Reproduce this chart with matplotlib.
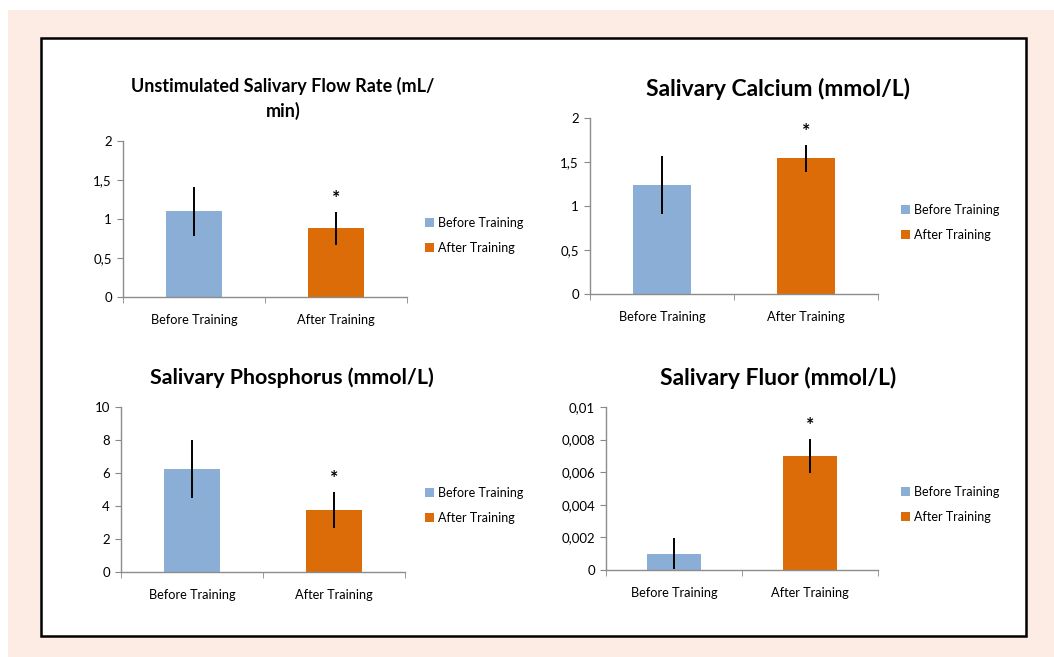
import matplotlib
matplotlib.use("Agg")
import matplotlib.pyplot as plt
from matplotlib.patches import Rectangle

plt.rcParams['font.family'] = ['Lato', 'DejaVu Sans']

# Data
categories = ["Before Training", "After Training"]
titles = ["Unstimulated Salivary Flow Rate (mL/\nmin)",
          "Salivary Calcium (mmol/L)",
          "Salivary Phosphorus (mmol/L)",
          "Salivary Fluor (mmol/L)"]
flow_vals = [1.1, 0.88]
flow_err = [0.3, 0.2]
calcium_vals = [1.24, 1.54]
calcium_err = [0.32, 0.14]
phos_vals = [6.25, 3.75]
phos_err = [1.7, 1.03]
fluor_vals = [0.001, 0.007]
fluor_err = [0.0009, 0.001]
yticks_flow = [0, 0.5, 1, 1.5, 2]
yticks_calcium = [0, 0.5, 1, 1.5, 2]
yticks_phos = [0, 2, 4, 6, 8, 10]
yticks_fluor = [0, 0.002, 0.004, 0.006, 0.008, 0.01]
ytick_labels_flow = ["0", "0,5", "1", "1,5", "2"]
ytick_labels_calcium = ["0", "0,5", "1", "1,5", "2"]
ytick_labels_phos = ["0", "2", "4", "6", "8", "10"]
ytick_labels_fluor = ["0", "0,002", "0,004", "0,006", "0,008", "0,01"]

colors = ['#8aaed6', '#dc6c08']
W, H = 1054, 657

fig = plt.figure(figsize=(W / 100, H / 100), dpi=100)
fig.patch.set_facecolor('white')

# peach background and black frame
fig.patches.append(Rectangle((8 / W, 0), 1, 1 - 10 / H, transform=fig.transFigure,
                             facecolor='#fdece3', edgecolor='none', zorder=-3))
fig.patches.append(Rectangle((41 / W, 1 - 636 / H), (1026 - 41) / W, (636 - 38) / H,
                             transform=fig.transFigure, facecolor='white',
                             edgecolor='black', linewidth=1.8, zorder=-2))


def px_axes(x0, y0, x1, y1):
    return fig.add_axes([x0 / W, 1 - y1 / H, (x1 - x0) / W, (y1 - y0) / H])


panels = [
    dict(rect=(123, 141, 407, 297), vals=flow_vals, err=flow_err, ymax=2,
         ticks=yticks_flow, labels=ytick_labels_flow, tsize=13,
         title_xy=(283, 98), leg_xy=(425, 217)),
    dict(rect=(590, 118, 878, 294), vals=calcium_vals, err=calcium_err, ymax=2,
         ticks=yticks_calcium, labels=ytick_labels_calcium, tsize=16.5,
         title_xy=(778, 89), leg_xy=(901, 204)),
    dict(rect=(121, 407, 405, 572), vals=phos_vals, err=phos_err, ymax=10,
         ticks=yticks_phos, labels=ytick_labels_phos, tsize=15.4,
         title_xy=(292, 378), leg_xy=(425, 487)),
    dict(rect=(606, 407, 878, 570), vals=fluor_vals, err=fluor_err, ymax=0.01,
         ticks=yticks_fluor, labels=ytick_labels_fluor, tsize=16.5,
         title_xy=(778, 378), leg_xy=(901, 486)),
]

for p, title in zip(panels, titles):
    ax = px_axes(*p['rect'])
    for i, (cat, v, e) in enumerate(zip(categories, p['vals'], p['err'])):
        ax.bar(i, v, width=0.4, color=colors[i], label=cat, zorder=2)
        ax.plot([i, i], [v - e, v + e], color='black', lw=1.4, zorder=3)
    # significance star above the after-training bar
    v, e = p['vals'][1], p['err'][1]
    ax.text(1, v + e + p['ymax'] * 0.035, '*', ha='center', va='bottom',
            fontsize=14, fontweight='bold')
    ax.set_xlim(-0.5, 1.5)
    ax.set_ylim(0, p['ymax'])
    ax.set_yticks(p['ticks'])
    ax.set_yticklabels(p['labels'])
    ax.set_xticks([0, 1])
    ax.set_xticklabels(categories)
    ax.set_xticks([-0.5, 0.5, 1.5], minor=True)
    ax.tick_params(axis='x', which='major', length=0, pad=12, labelsize=9.2)
    ax.tick_params(axis='x', which='minor', length=4, direction='out', color='#888888')
    ax.tick_params(axis='y', length=4, direction='out', color='#888888', labelsize=9.5, pad=4)
    for s in ['top', 'right']:
        ax.spines[s].set_visible(False)
    for s in ['left', 'bottom']:
        ax.spines[s].set_color('#8c8c8c')
        ax.spines[s].set_linewidth(1.0)
    ax.set_facecolor('none')
    fig.text(p['title_xy'][0] / W, 1 - p['title_xy'][1] / H, title, ha='center',
             va='center', fontsize=p['tsize'], fontweight='bold', linespacing=1.45)
    fig.legend(*ax.get_legend_handles_labels(), loc='upper left',
               bbox_to_anchor=(p['leg_xy'][0] / W, 1 - p['leg_xy'][1] / H),
               frameon=False, fontsize=9, handlelength=0.7, handleheight=0.7,
               handletextpad=0.3, labelspacing=1.05, borderpad=0, borderaxespad=0)

fig.savefig('out.png', dpi=100)
